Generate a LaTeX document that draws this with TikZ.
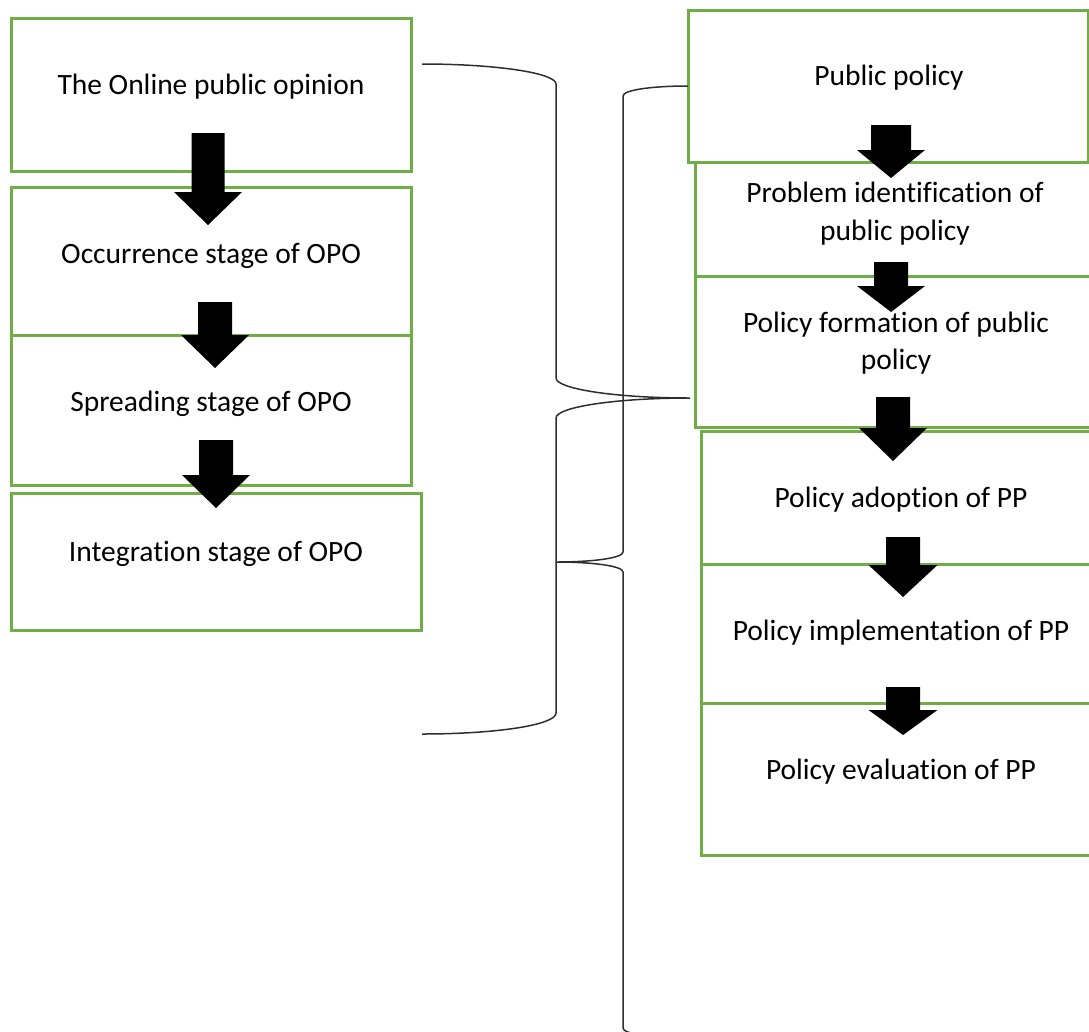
\documentclass[tikz,border=0pt]{standalone}
\usepackage{fontspec}
\setmainfont{Carlito}[Ligatures=CommonOff]
\definecolor{boxgreen}{HTML}{70AD47}
\definecolor{bracegray}{HTML}{2E2E2E}
\newcommand\blkarrow[6]{%
  \fill[black] (#1-#2,#4) -- (#1+#2,#4) -- (#1+#2,#5) -- (#1+#3,#5) -- (#1,#6)
    -- (#1-#3,#5) -- (#1-#2,#5) -- cycle;}
\begin{document}
\begin{tikzpicture}[x=1pt,y=-1pt,
  box/.style={draw=boxgreen, line width=3pt, fill=white, rectangle,
    inner sep=0pt, outer sep=0pt, anchor=north west},
  lbl/.style={font=\fontsize{29.5}{35}\selectfont, anchor=base, inner sep=0pt},
  bracestyle/.style={draw=bracegray, line width=1.5pt}]
\useasboundingbox (0,0) rectangle (1089,1031);
% left column boxes
\node[box, minimum width=400pt, minimum height=153pt] (L1) at (11,18) {};
\node[box, minimum width=400pt, minimum height=148pt] (L2) at (11,187) {};
\node[box, minimum width=400pt, minimum height=150pt] (L3) at (11,335) {};
\node[box, minimum width=410pt, minimum height=137pt] (L4) at (11,493) {};
% right column boxes
\node[box, minimum width=410pt, minimum height=114pt] (R2) at (695,162) {};
\node[box, minimum width=400pt, minimum height=152pt] (R1) at (688,10) {};
\node[box, minimum width=410pt, minimum height=151pt] (R3) at (695,276) {};
\node[box, minimum width=404pt, minimum height=133pt] (R4) at (701,431) {};
\node[box, minimum width=404pt, minimum height=139pt] (R5) at (701,564) {};
\node[box, minimum width=404pt, minimum height=152pt] (R6) at (701,703) {};
% labels
\node[lbl] (t1) at (211,94) {The Online public opinion};
\node[lbl] (t2) at (211,263) {Occurrence stage of OPO};
\node[lbl] (t3) at (211,411) {Spreading stage of OPO};
\node[lbl] (t4) at (216,561) {Integration stage of OPO};
\node[lbl] (s1) at (889,85) {Public policy};
\node[lbl] (s2a) at (895,202) {Problem identification of};
\node[lbl] (s2b) at (895,240) {public policy};
\node[lbl] (s3a) at (896,332) {Policy formation of public};
\node[lbl] (s3b) at (896,369) {policy};
\node[lbl] (s4) at (901,507) {Policy adoption of PP};
\node[lbl] (s5) at (901,640) {Policy implementation of PP};
\node[lbl] (s6) at (901,779) {Policy evaluation of PP};
% block arrows
\blkarrow{208}{16.5}{34}{133}{192}{225}
\blkarrow{215}{17}{34}{302}{335}{368}
\blkarrow{216}{17}{34}{440}{475}{508}
\blkarrow{891}{20}{34}{125}{150}{178}
\blkarrow{891}{17}{34}{262}{286}{312}
\blkarrow{893}{17}{34}{397}{428}{461}
\blkarrow{903}{17}{34.5}{537}{565}{597}
\blkarrow{903}{17}{34.5}{687}{710}{735}
% brace 1 (left group -> Policy formation)
\coordinate (b1top) at (422,64);
\coordinate (b1a) at (556,84);
\coordinate (b1b) at (556,378);
\coordinate (b1tip) at (690,398);
\coordinate (b1c) at (556,418);
\coordinate (b1d) at (556,713);
\coordinate (b1bot) at (422,734);
\draw[bracestyle] (b1top) .. controls (496,64) and (556,73) .. (b1a)
  -- (b1b) .. controls (556,389) and (616,398) .. (b1tip)
  .. controls (616,398) and (556,407) .. (b1c)
  -- (b1d) .. controls (556,725) and (496,734) .. (b1bot);
% brace 2 (right group -> left)
\coordinate (b2top) at (688,86);
\coordinate (b2a) at (623,96);
\coordinate (b2b) at (623,552);
\coordinate (b2tip) at (556,562);
\coordinate (b2c) at (623,572);
\coordinate (b2d) at (623,1028);
\coordinate (b2bot) at (688,1038);
\draw[bracestyle] (b2top) .. controls (652,86) and (623,90) .. (b2a)
  -- (b2b) .. controls (623,558) and (593,562) .. (b2tip)
  .. controls (593,562) and (623,566) .. (b2c)
  -- (b2d) .. controls (623,1034) and (652,1038) .. (b2bot);
\end{tikzpicture}
\end{document}
